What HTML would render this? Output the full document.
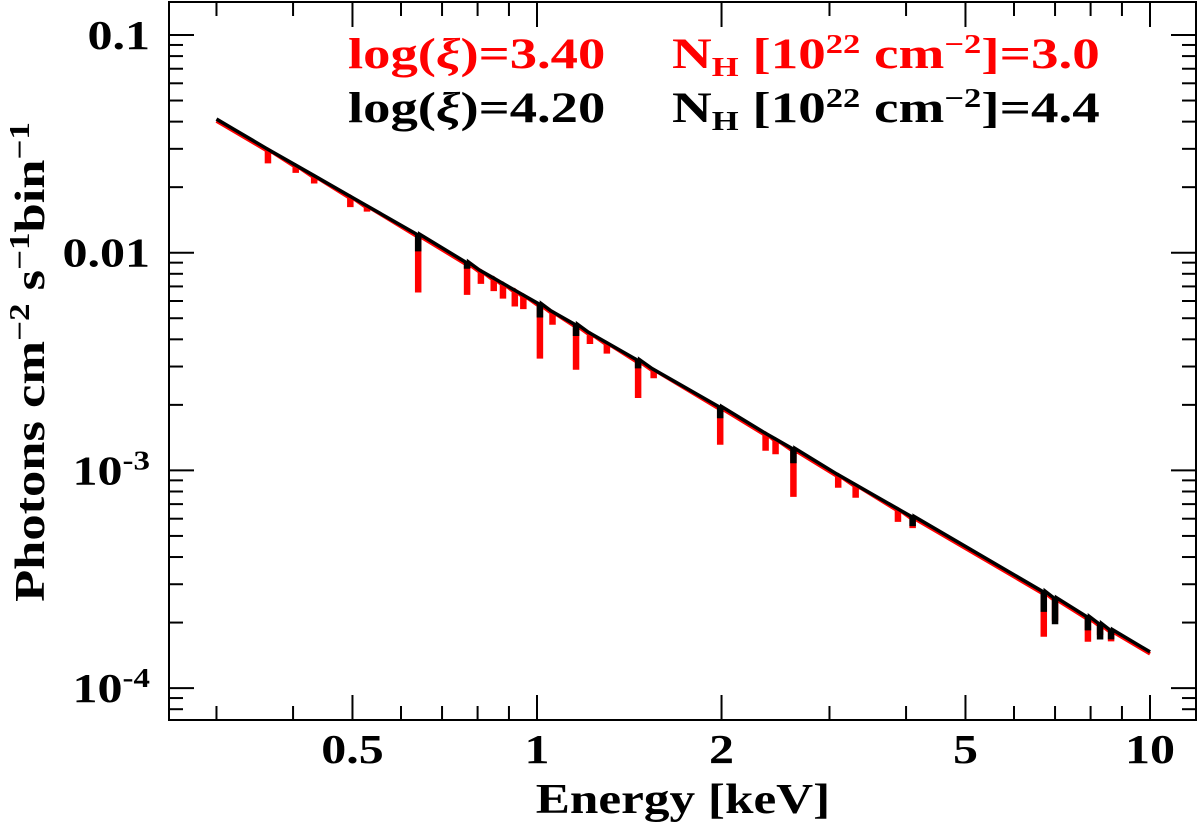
<!DOCTYPE html>
<html><head><meta charset="utf-8"><style>
body{margin:0;background:#fff}
svg text{font-family:"Liberation Serif","DejaVu Serif",serif;font-weight:bold}
</style></head><body>
<svg id="chart" width="1200" height="830" viewBox="0 0 1200 830" xmlns="http://www.w3.org/2000/svg">
<g id="ticks"></g>
<g id="series"></g>
<rect x="169" y="2" width="1027" height="718" fill="none" stroke="#000" stroke-width="2"/>
<g id="labels" font-size="41"></g>
<g transform="translate(683,813) scale(1.22,1)"><text x="0" y="0" font-size="42" text-anchor="middle">Energy [keV]</text></g>
<g transform="translate(44,362) rotate(-90) scale(1.25,1)"><text x="0" y="0" font-size="42" text-anchor="middle">Photons cm<tspan dy="-15" font-size="28">−2</tspan><tspan dy="15"> s</tspan><tspan dy="-15" font-size="28">−1</tspan><tspan dy="15">bin</tspan><tspan dy="-15" font-size="28">−1</tspan></text></g>
<g font-size="43">
<g transform="translate(348,68) scale(1.27,1)"><text x="0" y="0" fill="#f00">log(<tspan font-style="italic">ξ</tspan>)=3.40</text></g>
<g transform="translate(672,68) scale(1.28,1)"><text x="0" y="0" fill="#f00">N<tspan font-size="27" dy="8">H</tspan><tspan dy="-8"> [10</tspan><tspan font-size="27" dy="-15">22</tspan><tspan dy="15"> cm</tspan><tspan font-size="27" dy="-15">−2</tspan><tspan dy="15">]=3.0</tspan></text></g>
<g transform="translate(348,122) scale(1.27,1)"><text x="0" y="0" fill="#000">log(<tspan font-style="italic">ξ</tspan>)=4.20</text></g>
<g transform="translate(672,122) scale(1.28,1)"><text x="0" y="0" fill="#000">N<tspan font-size="27" dy="8">H</tspan><tspan dy="-8"> [10</tspan><tspan font-size="27" dy="-15">22</tspan><tspan dy="15"> cm</tspan><tspan font-size="27" dy="-15">−2</tspan><tspan dy="15">]=4.4</tspan></text></g>
</g>
</svg>
<script>
const energyRange=[0.3,10];
const fluxAtEnds=[0.0411,1.466e-4];
const lineEnergies=[0.364,0.404,0.433,0.496,0.528,0.640,0.769,0.81,0.85,0.88,0.92,0.95,1.011,1.06,1.158,1.22,1.30,1.462,1.55,1.99,2.36,2.45,2.62,3.10,3.31,3.88,4.10,6.71,7.0,7.92,8.29,8.64];
const redRatio=[0.87,0.93,0.93,0.90,0.95,0.55,0.72,0.88,0.88,0.86,0.85,0.87,0.57,0.88,0.63,0.90,0.90,0.68,0.92,0.68,0.84,0.86,0.61,0.88,0.88,0.88,0.90,0.63,0.80,0.78,0.90,0.90];
const blackRatio=[1,1,1,1,1,0.85,0.95,1,1,1,1,1,0.88,1,0.90,1,1,0.93,1,0.90,1,1,0.87,1,1,1,0.92,0.82,0.77,0.88,0.86,0.92];
const xTicksMajor=[0.5,1,2,5,10];
const xTickLabels=["0.5","1","2","5","10"];
const xTicksMinor=[0.3,0.4,0.6,0.7,0.8,0.9,3,4,6,7,8,9];
const yDecades=[0.1,0.01,0.001,0.0001];
const NS="http://www.w3.org/2000/svg";
const X=e=>537+613*Math.log10(e);
const Y=f=>35+217.7*(-1-Math.log10(f));
const gamma=Math.log10(fluxAtEnds[0]/fluxAtEnds[1])/Math.log10(energyRange[1]/energyRange[0]);
const cont=e=>fluxAtEnds[0]*Math.pow(e/energyRange[0],-gamma);
function mk(tag,attrs,parent){const el=document.createElementNS(NS,tag);for(const k in attrs)el.setAttribute(k,attrs[k]);parent.appendChild(el);return el;}
const tg=document.getElementById('ticks');
function tick(x1,y1,x2,y2){const l=mk('line',{x1,y1,x2,y2,stroke:'#000','stroke-width':2},tg);

}
xTicksMajor.forEach(e=>{const x=X(e);tick(x,720,x,695);tick(x,2,x,27);});
xTicksMinor.forEach(e=>{const x=X(e);tick(x,720,x,706);tick(x,2,x,16);});
for(let d=-5;d<=-1;d++){for(let m=1;m<=9;m++){const f=m*Math.pow(10,d);const y=Y(f);if(y<2||y>720)continue;
const L=m===1?25:14;tick(169,y,169+L,y);tick(1196,y,1196-L,y);}}
const lg=document.getElementById('labels');
xTicksMajor.forEach((e,i)=>{const g=mk('g',{transform:'translate('+X(e)+',763) scale(1.22,1)'},lg);
const t=mk('text',{x:0,y:0,'text-anchor':'middle'},g);t.textContent=xTickLabels[i];

});
yDecades.forEach(f=>{const g=mk('g',{transform:'translate(150,'+(Y(f)+14)+') scale(1.22,1)'},lg);
const t=mk('text',{x:0,y:0,'text-anchor':'end'},g);


const p=Math.round(Math.log10(f));
if(p>=-2){t.textContent=f.toString();}else{t.appendChild(document.createTextNode('10'));const s=mk('tspan',{dy:-15,'font-size':27},t);s.textContent=String(p);}});
const sg=document.getElementById('series');
function series(ratios,color,name,off){
 let d='';const e0=energyRange[0],e1=energyRange[1];
 d+='M'+X(e0)+','+(Y(cont(e0))+off);
 lineEnergies.forEach((e,i)=>{const r=ratios[i];const x=X(e);
  d+=' L'+(x-1.5)+','+(Y(cont(e))+off);
  if(r<1){d+=' L'+(x-1.5)+','+Y(cont(e)*r)+' L'+(x+1.5)+','+Y(cont(e)*r)+' L'+(x+1.5)+','+(Y(cont(e))+off);}
 });
 d+=' L'+X(e1)+','+(Y(cont(e1))+off);
 const p=mk('path',{d,fill:'none',stroke:color,'stroke-width':3.5,'stroke-linejoin':'miter'},sg);
 
 
}
series(redRatio,'#f00','series-red-spectrum',2);
series(blackRatio,'#000','series-black-spectrum',0);
</script>
</body></html>
